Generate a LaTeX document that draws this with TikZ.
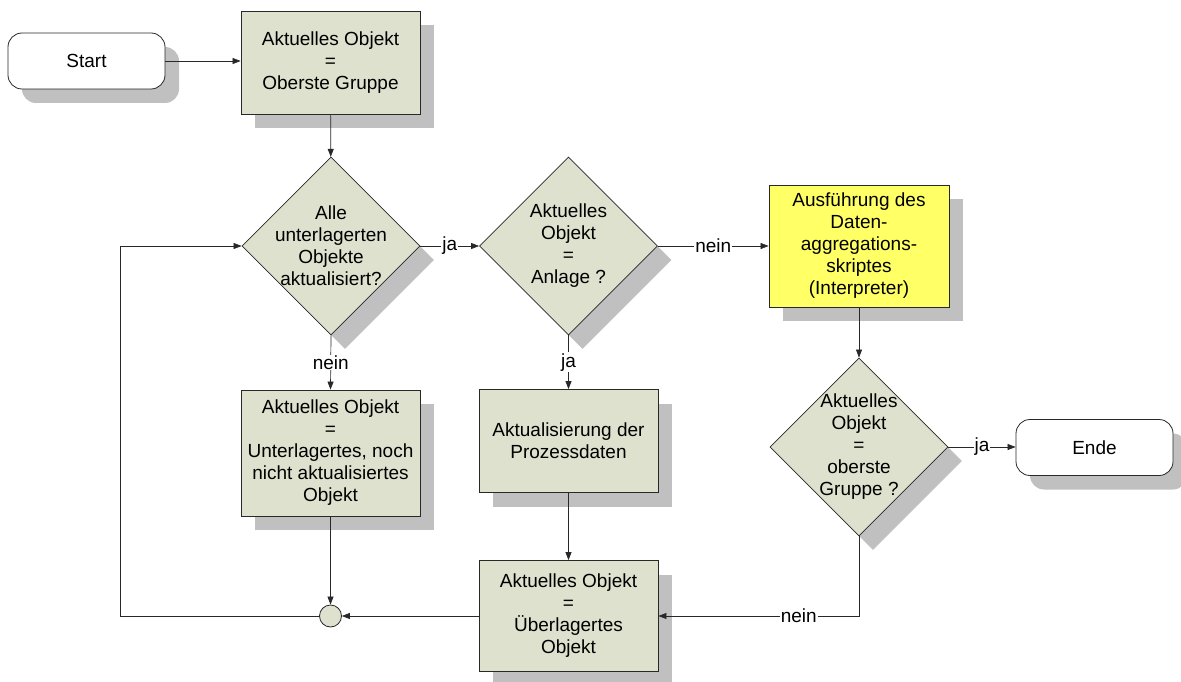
\documentclass[tikz,border=0pt]{standalone}
\usepackage{fontspec}
\setmainfont{Liberation Sans}
\usetikzlibrary{shapes.geometric,shadows,arrows.meta}
\definecolor{boxfill}{RGB}{222,225,206}
\definecolor{procyellow}{RGB}{255,255,102}
\definecolor{shadowgray}{RGB}{192,192,192}
\definecolor{edge}{RGB}{40,40,40}

\tikzset{
  every node/.style={font=\fontsize{19}{22}\selectfont},
  sh/.style={drop shadow={shadow xshift=14pt,shadow yshift=-14pt,fill=shadowgray,opacity=1}},
  procbox/.style={draw=edge,line width=0.8pt,fill=boxfill,sh,align=center,inner sep=0pt,minimum width=179pt},
  decision/.style={diamond,draw=edge,line width=0.8pt,fill=boxfill,sh,inner sep=0pt,minimum width=178pt,minimum height=178pt},
  dtext/.style={align=center,inner sep=0pt},
  terminal/.style={draw=edge,line width=0.8pt,fill=white,rounded corners=14pt,sh,minimum width=157pt,minimum height=56pt},
  arr/.style={draw=edge,line width=0.7pt,-{Triangle[length=8pt,width=6pt]}},
  lbl/.style={fill=white,inner sep=1pt}
}

\begin{document}
\begin{tikzpicture}[x=1pt,y=-1pt]
  \useasboundingbox (0,0) rectangle (1181,682);

  % start / end terminals
  \node[terminal] (start) at (86.5,61) {Start};
  \node[terminal] (ende) at (1094.5,447.5) {Ende};

  % process boxes
  \node[procbox,minimum height=103pt] (b1) at (330.5,62.5) {Aktuelles Objekt\\=\\Oberste Gruppe};
  \node[procbox,minimum height=126pt] (u) at (330.5,453) {Aktuelles Objekt\\=\\Unterlagertes, noch\\nicht aktualisiertes\\Objekt};
  \node[procbox,minimum height=103pt] (p) at (568.5,441) {Aktualisierung der\\Prozessdaten};
  \node[procbox,minimum height=111pt] (ue) at (568.5,616) {Aktuelles Objekt\\=\\Überlagertes\\Objekt};
  \node[procbox,fill=procyellow,minimum width=180pt,minimum height=122pt] (y) at (859,246) {Ausführung des\\Daten-\\aggregations-\\skriptes\\(Interpreter)};

  % decisions
  \node[decision] (d1) at (331,246) {};
  \node[dtext] (d1t) at (d1) {Alle\\unterlagerten\\Objekte\\aktualisiert?};
  \node[decision] (d2) at (568.5,246) {};
  \node[dtext] (d2t) at (d2) {Aktuelles\\Objekt\\=\\Anlage ?};
  \node[decision] (d3) at (859,447) {};
  \node[dtext] (d3t) at (d3) {Aktuelles\\Objekt\\=\\oberste\\Gruppe ?};

  % junction
  \node[circle,draw=edge,line width=0.8pt,fill=boxfill,minimum size=22pt,inner sep=0pt] (c) at (330.5,616) {};
  \coordinate (lc) at (120,616);

  % connectors
  \draw[arr] (start.east) -- (start.east -| b1.west);
  \draw[arr] (b1) -- (d1);
  \draw[arr] (d1.east) -- node[lbl] {ja} (d2.west);
  \draw[arr] (d2.east) -- node[lbl] {nein} (y.west);
  \draw[arr] (y) -- (d3);
  \draw[arr] (d3.east) -- node[lbl] {ja} (d3.east -| ende.west);
  \draw[arr] (d1.south) -- node[lbl] {nein} (u.north);
  \draw[arr] (d2.south) -- node[lbl] {ja} (p.north);
  \draw[arr] (p) -- (ue);
  \draw[arr] (u) -- (c);
  \draw[arr] (ue) -- (c);
  \draw[arr] (d3.south) |- node[lbl,pos=0.65] {nein} (ue.east);
  \draw[arr] (c.west) -- (lc) |- (d1.west);
\end{tikzpicture}
\end{document}
